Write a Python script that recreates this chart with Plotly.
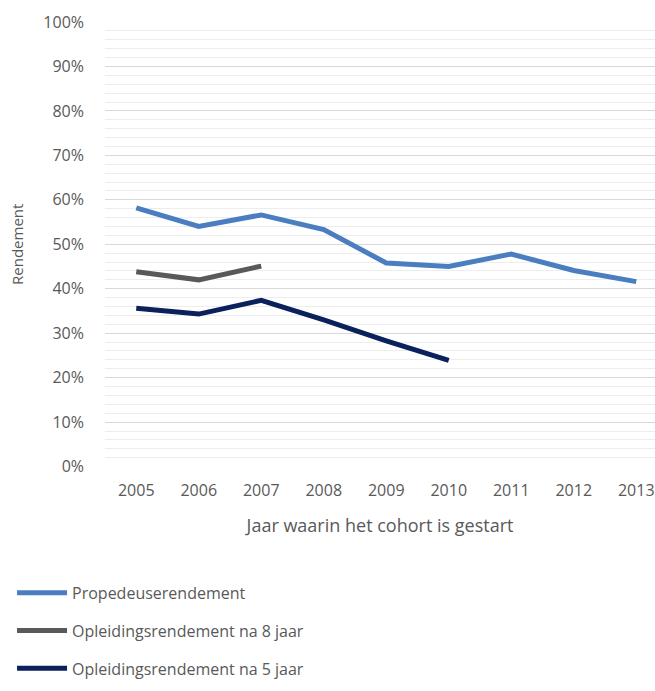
import plotly.graph_objects as go

years = [2005, 2006, 2007, 2008, 2009, 2010, 2011, 2012, 2013]
propedeuse = [0.582, 0.540, 0.566, 0.533, 0.458, 0.450, 0.478, 0.441, 0.416]
years_8 = [2005, 2006, 2007]
opl_8 = [0.438, 0.420, 0.451]
years_5 = [2005, 2006, 2007, 2008, 2009, 2010]
opl_5 = [0.356, 0.343, 0.374, 0.330, 0.283, 0.239]

names = ["Propedeuserendement", "Opleidingsrendement na 8 jaar", "Opleidingsrendement na 5 jaar"]
colors = ["#4A7EC0", "#595959", "#0A215C"]

FONT = "Open Sans"
fig = go.Figure()
for i, (x, y) in enumerate([(years, propedeuse), (years_8, opl_8), (years_5, opl_5)]):
    fig.add_trace(go.Scatter(x=x, y=y, mode="lines", name=names[i], legendgroup=f"g{i}",
                             line=dict(color=colors[i], width=5)))

fig.update_layout(
    width=655, height=691,
    margin=dict(l=105, r=0, t=22, b=0),
    paper_bgcolor="white", plot_bgcolor="white",
    font=dict(family=FONT, size=16, color="#595959"),
    showlegend=True,
    legend=dict(orientation="v", x=-0.169, xanchor="left", y=0.1584, yanchor="top",
                tracegroupgap=14, font=dict(size=16, color="#595959"),
                itemwidth=50, bgcolor="rgba(0,0,0,0)"),
    xaxis=dict(range=[2004.5, 2013.3], tickmode="array", tickvals=years,
               ticktext=[str(v) for v in years], showgrid=False, zeroline=False,
               showline=False, ticks="", ticklabelstandoff=12, automargin=False,
               tickfont=dict(size=16),
               title=dict(text="Jaar waarin het cohort is gestart", standoff=19,
                          font=dict(size=18, color="#595959"))),
    yaxis=dict(domain=[217 / 669, 1.0], range=[0, 1.0], dtick=0.1, tickformat=".0%",
               showgrid=True, gridcolor="#D9D9D9", gridwidth=1, zeroline=False,
               showline=False, ticks="", ticklabelstandoff=20, tickfont=dict(size=16),
               minor=dict(dtick=0.02, showgrid=True, gridcolor="#EDEDED", gridwidth=1),
               title=dict(text="Rendement", standoff=16,
                          font=dict(size=15, color="#595959"))),
)

fig.write_html("out.html")
